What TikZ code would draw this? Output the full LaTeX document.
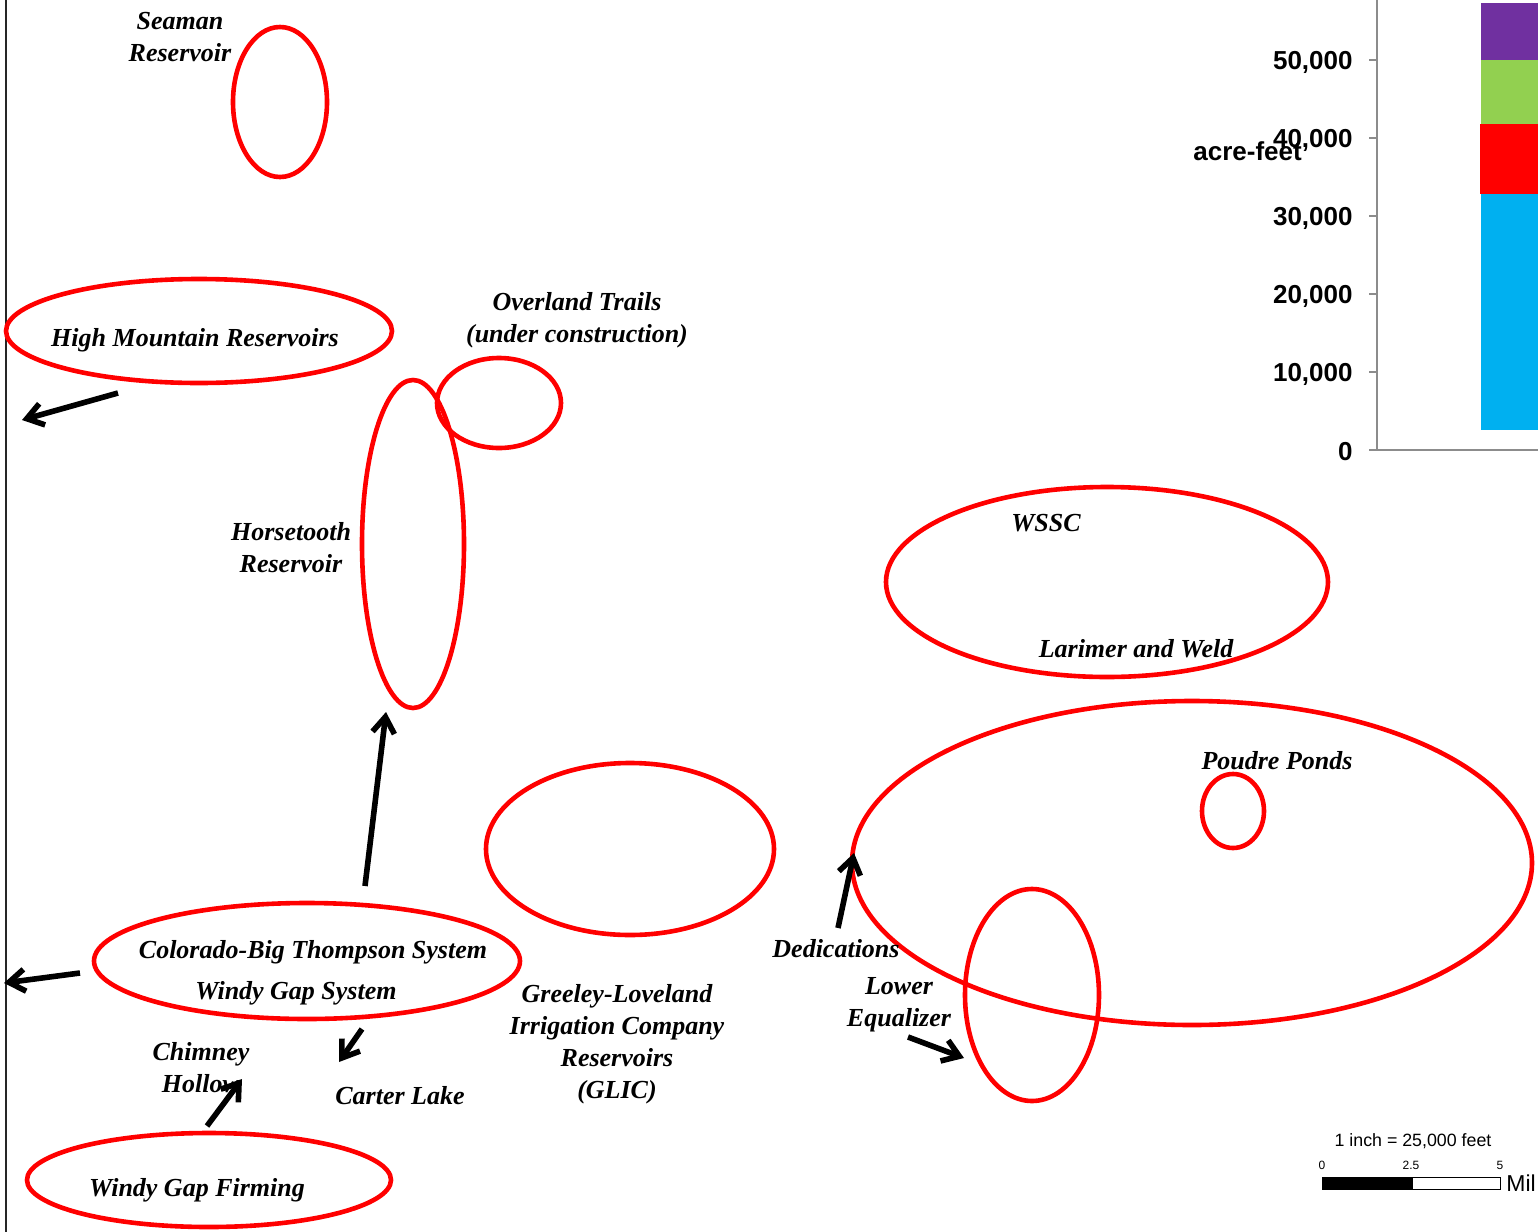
\documentclass[tikz,border=0pt]{standalone}
\usepackage{fontspec}
\setmainfont{Liberation Serif}
\newfontfamily\arialfont{Liberation Sans}
\usepackage{tikz}
\usetikzlibrary{shapes.geometric,arrows.meta}
\usepackage{xcolor}
\definecolor{barpurple}{HTML}{7030A0}
\definecolor{bargreen}{HTML}{92D050}
\definecolor{barred}{HTML}{FF0000}
\definecolor{barblue}{HTML}{00B0F0}
\definecolor{axisgray}{HTML}{8C8C8C}

\begin{document}
\begin{tikzpicture}[x=0.5pt, y=-0.5pt,
    zone/.style={ellipse, draw=red, line width=2.3pt, inner sep=0pt, outer sep=0pt},
    lbl/.style={font=\fontsize{13}{16}\selectfont\bfseries\itshape, align=center, inner sep=0pt},
    flow/.style={black, line width=2.8pt, -{Straight Barb[length=8pt, width=11pt]}},
    ticklbl/.style={font=\arialfont\fontsize{13}{15}\selectfont\bfseries, anchor=east, inner sep=0pt}]
    \useasboundingbox (0,0) rectangle (1538,1232);

    \coordinate (HMRA) at (118, 393);
    \coordinate (HMRB) at (22, 420);

    \coordinate (CBTA) at (80, 973);
    \coordinate (CBTB) at (4, 983);

    \coordinate (CBTUPA) at (365, 886);
    \coordinate (CBTUPB) at (386, 712);

    \coordinate (CBTDNA) at (362, 1029);
    \coordinate (CBTDNB) at (339, 1062);

    \coordinate (WGFA) at (207, 1126);
    \coordinate (WGFB) at (242, 1079);

    \coordinate (DEDA) at (838, 928);
    \coordinate (DEDB) at (854, 853);

    \coordinate (LEA) at (908, 1037);
    \coordinate (LEB) at (964, 1058);

    % map edge
    \draw [black!85, line width=1pt] (6, 0) to (6, 1232);

    % reservoirs and systems
    \node [zone, minimum width=47pt, minimum height=75pt] (SR) at (280, 102) {};
    \node [zone, minimum width=193pt, minimum height=52pt] (HMR) at (199, 331) {};
    \node [zone, minimum width=51pt, minimum height=164pt] (HT) at (413, 544) {};
    \node [zone, minimum width=62pt, minimum height=45pt] (OT) at (499, 403) {};
    \node [zone, minimum width=221pt, minimum height=95pt] (WSSC) at (1107, 582) {};
    \node [zone, minimum width=340pt, minimum height=162pt] (PV) at (1192, 863) {};
    \node [zone, minimum width=31pt, minimum height=37pt] (PP) at (1233, 811) {};
    \node [zone, minimum width=144pt, minimum height=86pt] (GLIC) at (630, 849) {};
    \node [zone, minimum width=67pt, minimum height=106pt] (LE) at (1032, 995) {};
    \node [zone, minimum width=213pt, minimum height=58pt] (CBT) at (307, 961) {};
    \node [zone, minimum width=182pt, minimum height=47pt] (WGF) at (209, 1180) {};

    \node [lbl] (SRL) at (180, 37) {Seaman\\Reservoir};
    \node [lbl] (HMRL) at (195, 340) {High Mountain Reservoirs};
    \node [lbl] (OTL) at (577, 320) {Overland Trails\\(under construction)};
    \node [lbl] (HTL) at (291, 548) {Horsetooth\\Reservoir};
    \node [lbl] (WSSCL) at (1046, 523) {WSSC};
    \node [lbl] (LWL) at (1136, 649) {Larimer and Weld};
    \node [lbl] (PPL) at (1277, 761) {Poudre Ponds};
    \node [lbl] (CBTL) at (313, 952) {Colorado-Big Thompson System};
    \node [lbl] (WGSL) at (296, 993) {Windy Gap System};
    \node [lbl] (CHL) at (201, 1068) {Chimney\\Hollow};
    \node [lbl] (CLL) at (400, 1096) {Carter Lake};
    \node [lbl] (GLICL) at (617, 1044) {Greeley-Loveland\\Irrigation Company\\Reservoirs\\(GLIC)};
    \node [lbl] (DEDL) at (836, 949) {Dedications};
    \node [lbl] (LEL) at (899, 1005) {Lower\\Equalizer};
    \node [lbl] (WGFL) at (197, 1190) {Windy Gap Firming};

    \draw [flow] (HMRA) to (HMRB);
    \draw [flow] (CBTA) to (CBTB);
    \draw [flow] (CBTUPA) to (CBTUPB);
    \draw [flow] (CBTDNA) to (CBTDNB);
    \draw [flow] (WGFA) to (WGFB);
    \draw [flow] (DEDA) to (DEDB);
    \draw [flow] (LEA) to (LEB);

    % storage chart
    \fill [barblue] (1481, 194) rectangle (1538, 430);
    \fill [barred] (1480, 124) rectangle (1538, 194);
    \fill [bargreen] (1481, 60) rectangle (1538, 124);
    \fill [barpurple] (1481, 3) rectangle (1538, 60);
    \draw [axisgray, line width=1pt] (1377, 0) to (1377, 450) to (1538, 450);
    \foreach \yy/\val in {450/0, 372/{10,000}, 294/{20,000}, 216/{30,000}, 138/{40,000}, 60/{50,000}} {
        \draw [axisgray, line width=1pt] (1369, \yy) to (1377, \yy);
        \node [ticklbl] at (1353, \yy+2) {\val};
    }
    \node [font=\arialfont\fontsize{13}{15}\selectfont\bfseries, anchor=west, inner sep=0pt] (AF) at (1193, 151) {acre-feet};

    % scale bar
    \node [font=\arialfont\fontsize{8.9}{10}\selectfont, inner sep=0pt] (SCL) at (1413, 1141) {1 inch = 25,000 feet};
    \node [font=\arialfont\fontsize{6}{7}\selectfont, inner sep=0pt] (S0) at (1322, 1165) {0};
    \node [font=\arialfont\fontsize{6}{7}\selectfont, inner sep=0pt] (S25) at (1411, 1165) {2.5};
    \node [font=\arialfont\fontsize{6}{7}\selectfont, inner sep=0pt] (S5) at (1500, 1165) {5};
    \fill [black] (1322, 1177) rectangle (1412, 1190);
    \draw [black, line width=0.75pt, fill=white] (1412, 1177.5) rectangle (1500.5, 1189.5);
    \node [font=\arialfont\fontsize{11.5}{13}\selectfont, anchor=west, inner sep=0pt] (MIL) at (1506, 1183) {Mil};
  \end{tikzpicture}
\end{document}
